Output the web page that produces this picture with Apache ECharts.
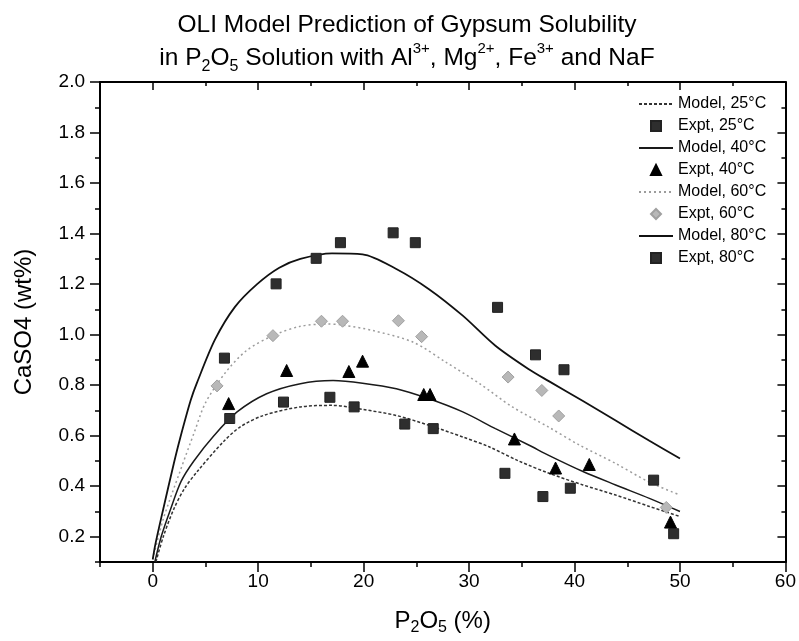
<!DOCTYPE html>
<html><head><meta charset="utf-8">
<script src="https://cdn.jsdelivr.net/npm/echarts@6/dist/echarts.min.js"></script>
<style>html,body{margin:0;padding:0;background:#fff}#c{width:799px;height:641px}#d{position:absolute;left:110px;top:90px;font:11px monospace;color:transparent;white-space:pre;z-index:9}</style>
</head><body><div id="c"></div><div id="d"></div>
<script>
// ---- tick labels ----
const xTicks = [0, 10, 20, 30, 40, 50, 60];
const yTicks = [0.2, 0.4, 0.6, 0.8, 1.0, 1.2, 1.4, 1.6, 1.8, 2.0];

// ---- series names ----
const names = ['Model, 25°C', 'Expt, 25°C', 'Model, 40°C', 'Expt, 40°C',
               'Model, 60°C', 'Expt, 60°C', 'Model, 80°C', 'Expt, 80°C'];

// ---- model curves [P2O5 %, CaSO4 wt%] ----
const model25 = [[0.3,0.1],[1.0,0.2],[2.0,0.31],[3.0,0.39],[4.2,0.457],[6.7,0.576],[8.3,0.635],[10.5,0.68],[14.0,0.714],[17.0,0.72],[19.9,0.704],[23.1,0.68],[26.2,0.641],[29.4,0.595],[31.9,0.556],[34.7,0.50],[37.6,0.451],[40.8,0.405],[43.9,0.365],[47.1,0.32],[50,0.28]];
const model40 = [[0.2,0.1],[0.8,0.2],[1.7,0.31],[2.7,0.42],[3.9,0.50],[5.8,0.60],[8.0,0.694],[10.8,0.766],[14.0,0.806],[17.1,0.818],[19.9,0.808],[23.1,0.786],[26.2,0.746],[29.4,0.694],[32.5,0.628],[35.7,0.562],[37.6,0.521],[40.8,0.458],[43.9,0.405],[47.1,0.352],[50,0.30]];
const model60 = [[0,0.11],[1.0,0.27],[2.6,0.46],[4.0,0.62],[5.0,0.73],[6.9,0.85],[8.9,0.937],[11.4,0.996],[14.0,1.033],[16.5,1.042],[18.0,1.038],[20.9,1.016],[24.7,0.97],[27.8,0.891],[31.0,0.806],[34.1,0.714],[37.5,0.635],[40.5,0.562],[43.9,0.49],[47.0,0.418],[50,0.365]];
const model80 = [[0,0.11],[0.25,0.17],[1.0,0.31],[2.0,0.49],[2.6,0.59],[3.6,0.74],[4.2,0.81],[5.9,0.98],[7.8,1.11],[9.9,1.20],[12.0,1.265],[14.0,1.30],[17.0,1.322],[19.9,1.318],[23.1,1.26],[26.2,1.18],[29.4,1.075],[32.5,0.956],[35.7,0.862],[37.6,0.815],[40.8,0.737],[43.9,0.66],[47.1,0.58],[50,0.51]];

// ---- experimental points ----
const expt25 = [[7.3,0.668],[12.4,0.733],[16.8,0.752],[19.1,0.714],[23.9,0.646],[26.6,0.628],[33.4,0.451],[37.0,0.359],[39.6,0.392],[49.4,0.212]];
const expt40 = [[7.2,0.727],[12.7,0.858],[18.6,0.854],[19.9,0.895],[25.7,0.763],[26.3,0.763],[34.3,0.587],[38.2,0.472],[41.4,0.486],[49.1,0.258]];
const expt60 = [[6.1,0.797],[11.4,0.996],[16.0,1.053],[18.0,1.053],[23.3,1.055],[25.5,0.992],[33.7,0.832],[36.9,0.779],[38.5,0.678],[48.7,0.316]];
const expt80 = [[6.8,0.907],[11.7,1.201],[15.5,1.302],[17.8,1.364],[22.8,1.403],[24.9,1.364],[32.7,1.108],[36.3,0.92],[39.0,0.861],[47.5,0.424]];

const F = '"Liberation Sans", Arial, Helvetica, sans-serif';
const chart = echarts.init(document.getElementById('c'), null, {renderer: 'canvas'});

const axLine = {show: true, onZero: false, lineStyle: {color: '#000', width: 2}};
const noLine = {show: false, onZero: false};
const tk = (len, inside, custom) => {
  const o = {show: true, inside: inside, length: len, lineStyle: {color: '#000', width: 1.5}};
  if (custom) o.customValues = custom;
  return o;
};
function xAx(pos, main, inside) {
  const o = {type: 'value', position: pos, min: -5, max: 60, splitLine: {show: false},
             axisLabel: {show: false}};
  if (main) { o.interval = 5; o.axisLine = axLine; o.axisTick = tk(inside ? 4 : 5, inside); }
  else { o.axisLine = noLine; o.axisTick = tk(inside ? 8 : 10, inside, xTicks); }
  return o;
}
function yAx(pos, main, inside) {
  const o = {type: 'value', position: pos, min: 0.1, max: 2.0, splitLine: {show: false},
             axisLabel: {show: false}};
  if (main) { o.interval = 0.1; o.axisLine = axLine; o.axisTick = tk(inside ? 4 : 5, inside); }
  else { o.axisLine = noLine; o.axisTick = tk(inside ? 8 : 10, inside, yTicks); }
  return o;
}

const xAxes = [xAx('bottom', true, false), xAx('bottom', false, false), xAx('top', true, true), xAx('top', false, true)];
xAxes[1].axisLabel = {show: true, customValues: xTicks, fontSize: 19, margin: 10, color: '#000', fontFamily: F};
xAxes[1].name = '{n|P}{s|2}{n|O}{s|5}{n| (%)}';
xAxes[1].nameLocation = 'middle';
xAxes[1].nameGap = 44;
xAxes[1].nameTextStyle = {color: '#000', fontFamily: F, rich: {
  n: {fontSize: 24, fontFamily: F, color: '#000', lineHeight: 30, verticalAlign: 'middle'},
  s: {fontSize: 16, fontFamily: F, color: '#000', lineHeight: 14, verticalAlign: 'bottom'}}};

const yAxes = [yAx('left', true, false), yAx('left', false, false), yAx('right', true, true), yAx('right', false, true)];
yAxes[1].axisLabel = {show: true, customValues: yTicks, fontSize: 19, margin: 15, color: '#000', fontFamily: F,
  formatter: v => v.toFixed(1)};
yAxes[1].name = 'CaSO4 (wt%)';
yAxes[1].nameLocation = 'middle';
yAxes[1].nameGap = 64;
yAxes[1].nameTextStyle = {color: '#000', fontFamily: F, fontSize: 24};

const lineSer = (name, data, color, width, type, z) => ({
  name, type: 'line', data, xAxisIndex: 0, yAxisIndex: 0, smooth: 0.3,
  symbol: 'none', z, lineStyle: {color, width, type}, itemStyle: {color}, emphasis: {disabled: true}
});
const ptSer = (name, data, symbol, size, color, border) => ({
  name, type: 'scatter', data, xAxisIndex: 0, yAxisIndex: 0, symbol, symbolSize: size, z: 5,
  itemStyle: {color, borderColor: border, borderWidth: 1, opacity: 1}, emphasis: {disabled: true}
});

const legends = names.map((nm, i) => {
  const isLine = i % 2 === 0;
  const rowTop = 96 + i * 22;
  const base = {orient: 'vertical', top: rowTop, padding: 0, itemHeight: 10, selectedMode: false,
    textStyle: {fontFamily: F, fontSize: 16, color: '#000', lineHeight: 16}};
  if (isLine) {
    return Object.assign(base, {left: 638, itemWidth: 34, data: [{name: nm, itemStyle: {opacity: 0}}]});
  }
  base.textStyle.padding = [0, 0, 0, 12];
  return Object.assign(base, {left: 650, itemWidth: 10, data: [nm]});
});

const option = {
  backgroundColor: '#fff',
  animation: false,
  title: [
    {text: 'OLI Model Prediction of Gypsum Solubility', left: 402, top: 8, textAlign: 'center',
     textStyle: {fontFamily: F, fontSize: 24.5, fontWeight: 'normal', color: '#000'}},
    {text: '{n|in P}{sub|2}{n|O}{sub|5}{n| Solution with Al}{sup|3+}{n|, Mg}{sup|2+}{n|, Fe}{sup|3+}{n| and NaF}',
     left: 402, top: 36, textAlign: 'center',
     textStyle: {fontFamily: F, fontSize: 24.5, fontWeight: 'normal', color: '#000', rich: {
       n: {fontFamily: F, fontSize: 24.5, color: '#000', lineHeight: 34, verticalAlign: 'middle'},
       sub: {fontFamily: F, fontSize: 16, color: '#000', lineHeight: 18, verticalAlign: 'bottom'},
       sup: {fontFamily: F, fontSize: 15, color: '#000', lineHeight: 18, verticalAlign: 'top'}}}}
  ],
  legend: legends,
  grid: {left: 100, right: 12, top: 82, bottom: 77, containLabel: false},
  xAxis: xAxes,
  yAxis: yAxes,
  series: [
    lineSer(names[0], model25, '#333333', 1.5, [3, 2], 3),
    ptSer(names[1], expt25, 'rect', 10, '#2e2e2e', '#222'),
    lineSer(names[2], model40, '#1a1a1a', 1.5, 'solid', 3),
    ptSer(names[3], expt40, 'triangle', 12, '#000000', '#000'),
    lineSer(names[4], model60, '#9c9c9c', 1.5, [2, 3], 3),
    ptSer(names[5], expt60, 'diamond', 12, '#b8b8b8', '#a0a0a0'),
    lineSer(names[6], model80, '#111111', 1.8, 'solid', 3),
    ptSer(names[7], expt80, 'rect', 10, '#2e2e2e', '#222')
  ]
};
chart.setOption(option);
let out = '';
try {
  const m = chart.getModel();
  for (let i = 0; i < 4; i++) {
    const am = m.getComponent('yAxis', i);
    const ax = am.axis;
    out += 'y' + i + ' pos=' + ax.position + ' ext=' + ax.getExtent().join(',') + '\n';
  }
  const g = m.getComponent('grid', 0).coordinateSystem.getRect();
  out += 'grid ' + [g.x, g.y, g.width, g.height].join(',');
} catch (e) { out += 'err ' + e.message; }
document.getElementById('d').textContent = out;
</script>
</body></html>
